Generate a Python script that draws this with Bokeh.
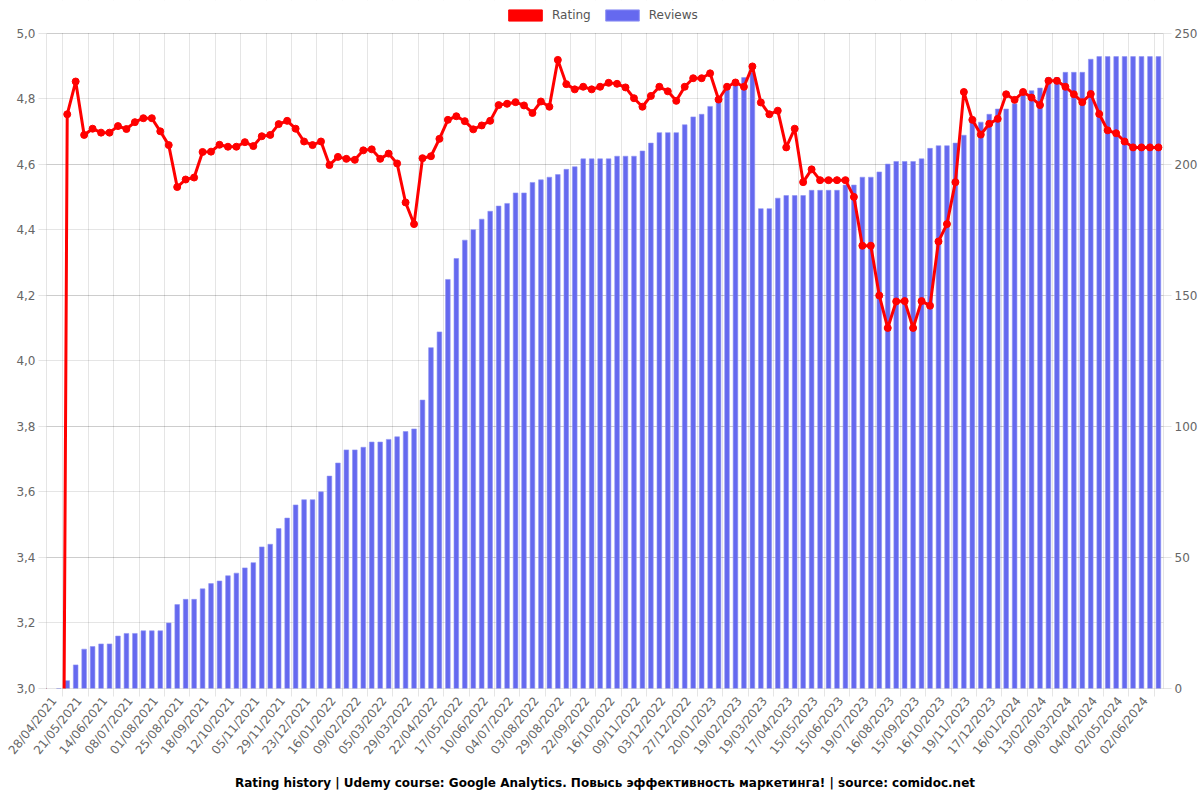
import math
from bokeh.plotting import figure
from bokeh.models import (Range1d, LinearAxis, FixedTicker, Grid, Legend, LegendItem,
                          CustomJSTickFormatter, Title, ColumnDataSource, BoxAnnotation)
from bokeh.embed import file_html
from bokeh.resources import INLINE

tick_labels = ["28/04/2021", "21/05/2021", "14/06/2021", "08/07/2021", "01/08/2021", "25/08/2021",
               "18/09/2021", "12/10/2021", "05/11/2021", "29/11/2021", "23/12/2021", "16/01/2022",
               "09/02/2022", "05/03/2022", "29/03/2022", "22/04/2022", "17/05/2022", "10/06/2022",
               "04/07/2022", "03/08/2022", "29/08/2022", "22/09/2022", "16/10/2022", "09/11/2022",
               "03/12/2022", "27/12/2022", "20/01/2023", "19/02/2023", "19/03/2023", "17/04/2023",
               "15/05/2023", "15/06/2023", "19/07/2023", "16/08/2023", "15/09/2023", "16/10/2023",
               "19/11/2023", "17/12/2023", "16/01/2024", "13/02/2024", "09/03/2024", "04/04/2024",
               "02/05/2024", "02/06/2024"]

reviews = [0,
           3, 9, 15, 16, 17, 17, 20, 21, 21, 22, 22, 22, 25, 32, 34, 34, 38, 40, 41, 43, 44, 46, 48,
           54, 55, 61, 65, 70, 72, 72, 75, 81, 86,
           91, 91, 92, 94, 94, 95, 96, 98, 99, 110, 130, 136, 156, 164, 171, 175, 179, 182, 184, 185,
           189, 189, 193, 194, 195, 196, 198, 199, 202, 202, 202, 202, 203,
           203, 203, 205, 208, 212, 212, 212, 215, 218, 219, 222, 224, 230, 230, 233, 235, 183, 183,
           187, 188, 188, 188, 190, 190, 190, 190, 192, 192, 195, 195, 197, 200, 201,
           201, 201, 202, 206, 207, 207, 208, 211, 216, 216, 219, 221, 221, 223, 228, 228, 229, 233,
           233, 235, 235, 235, 240, 241, 241, 241, 241, 241, 241, 241, 241]

rating = [0.0,
          4.752, 4.852, 4.689, 4.708, 4.696, 4.696, 4.716, 4.707, 4.728, 4.740, 4.740, 4.700, 4.658,
          4.530, 4.553, 4.559, 4.637, 4.638, 4.659, 4.653, 4.653, 4.667, 4.655, 4.685, 4.689, 4.722,
          4.732, 4.708, 4.669, 4.658, 4.669, 4.597, 4.622,
          4.616, 4.613, 4.642, 4.645, 4.616, 4.632, 4.602, 4.483, 4.417, 4.618, 4.624, 4.677, 4.735,
          4.746, 4.731, 4.706, 4.718, 4.732, 4.780, 4.784, 4.789, 4.779, 4.756, 4.791, 4.775, 4.918,
          4.844, 4.828, 4.836, 4.828, 4.836, 4.848, 4.845,
          4.834, 4.801, 4.775, 4.808, 4.836, 4.822, 4.793, 4.836, 4.862, 4.862, 4.877, 4.797, 4.836,
          4.849, 4.836, 4.898, 4.788, 4.752, 4.763, 4.651, 4.708, 4.545, 4.584, 4.551, 4.551, 4.551,
          4.551, 4.500, 4.351, 4.351, 4.199, 4.100, 4.181,
          4.182, 4.100, 4.182, 4.168, 4.364, 4.417, 4.545, 4.820, 4.735, 4.690, 4.723, 4.738, 4.813,
          4.796, 4.820, 4.803, 4.780, 4.854, 4.854, 4.836, 4.813, 4.789, 4.814, 4.753, 4.703, 4.694,
          4.669, 4.651, 4.651, 4.651, 4.651]

rating_ticks = [3.0, 3.2, 3.4, 3.6, 3.8, 4.0, 4.2, 4.4, 4.6, 4.8, 5.0]
review_ticks = [0, 50, 100, 150, 200, 250]

LABEL_STEP = 3
idx = list(range(len(reviews)))
src = ColumnDataSource(dict(x=idx, reviews=reviews, rating=rating))

FONT = "DejaVu Sans"
GRID = "rgba(0,0,0,0.1)"
X0, X1 = -1.45, len(idx) - 0.4
SHIFT = 0.55  # rotated labels end slightly left of the category centre

# the frame reaches the top of the page; the strip above the 5,0 line holds the legend
FRAME_H = 688
PLOT_H = 655.5
R_LO, R_HI = 3.0, 5.0
V_LO, V_HI = 0, 250
r_top = R_LO + (R_HI - R_LO) * FRAME_H / PLOT_H
v_top = V_LO + (V_HI - V_LO) * FRAME_H / PLOT_H

p = figure(width=1200, height=800, output_backend="svg", toolbar_location=None,
           x_range=Range1d(X0, X1), y_range=Range1d(R_LO, r_top),
           min_border_left=46, min_border_right=37, min_border_top=0, min_border_bottom=112,
           background_fill_color="white", border_fill_color="white", outline_line_color=None)
p.extra_y_ranges = {"rev": Range1d(V_LO, v_top)}
p.extra_x_ranges = {"lab": Range1d(X0 + SHIFT, X1 + SHIFT)}

label_ticks = list(range(0, len(idx), LABEL_STEP))[:len(tick_labels)]

# bottom axis 1: tick marks only, at category boundaries
p.xaxis.ticker = FixedTicker(ticks=[t + 0.5 for t in label_ticks])
p.xaxis.formatter = CustomJSTickFormatter(code="return '';")
p.xaxis.minor_tick_line_color = None
p.xaxis.major_tick_out = 8
p.xaxis.major_tick_in = 0
p.xaxis.major_tick_line_color = GRID
p.xaxis.axis_line_color = GRID
p.xaxis.major_label_standoff = 0

# bottom axis 2: rotated date labels
lab_axis = LinearAxis(x_range_name="lab", ticker=FixedTicker(ticks=label_ticks))
lab_axis.major_label_overrides = {t: lab for t, lab in zip(label_ticks, tick_labels)}
lab_axis.major_label_orientation = 0.9
lab_axis.minor_tick_line_color = None
lab_axis.major_tick_line_color = None
lab_axis.major_tick_out = 0
lab_axis.major_tick_in = 0
lab_axis.axis_line_color = None
lab_axis.major_label_text_font = FONT
lab_axis.major_label_text_font_size = "12px"
lab_axis.major_label_text_color = "#666666"
lab_axis.major_label_standoff = 2
p.add_layout(lab_axis, "below")

p.yaxis.ticker = FixedTicker(ticks=rating_ticks)
p.yaxis.bounds = (R_LO, R_HI)
p.yaxis.formatter = CustomJSTickFormatter(code="return tick.toFixed(1).replace('.', ',');")
p.yaxis.minor_tick_line_color = None
p.yaxis.major_tick_out = 8
p.yaxis.major_tick_in = 0
p.yaxis.major_tick_line_color = GRID
p.yaxis.axis_line_color = GRID
p.yaxis.major_label_text_font = FONT
p.yaxis.major_label_text_font_size = "12px"
p.yaxis.major_label_text_color = "#666666"
p.yaxis.major_label_standoff = 3

right = LinearAxis(y_range_name="rev", ticker=FixedTicker(ticks=review_ticks), bounds=(V_LO, V_HI))
right.minor_tick_line_color = None
right.major_tick_out = 8
right.major_tick_in = 0
right.major_tick_line_color = GRID
right.axis_line_color = GRID
right.major_label_text_font = FONT
right.major_label_text_font_size = "12px"
right.major_label_text_color = "#666666"
right.major_label_standoff = 3
p.add_layout(right, "right")

# grids
p.xgrid.visible = False
p.ygrid.grid_line_color = GRID
p.ygrid.ticker = FixedTicker(ticks=rating_ticks)
vgrid = Grid(dimension=0, ticker=FixedTicker(ticks=[t + 0.5 for t in label_ticks]),
             grid_line_color=GRID)
p.add_layout(vgrid)
rgrid = Grid(dimension=1, y_range_name="rev", ticker=FixedTicker(ticks=review_ticks),
             grid_line_color=GRID)
p.add_layout(rgrid)

# data
p.vbar(x="x", top="reviews", width=0.55, source=src, y_range_name="rev",
       fill_color="#6569ef", line_color="#8f93f4", line_width=0.6)
p.line(x="x", y="rating", source=src, line_color="#ff0000", line_width=3)
p.scatter(x="x", y="rating", source=src, size=7, fill_color="#ff0000", line_color="#ff0000")

# white strip above the plotting area (hides grid lines there)
p.add_layout(BoxAnnotation(bottom=R_HI, fill_color="white", fill_alpha=1.0, line_color=None))

# legend swatches (one off-screen element each so the legend has something to draw)
red_box = p.vbar(x=[-50], top=[0], width=1, y_range_name="rev",
                 fill_color="#ff0000", line_color="#ff0000")
blue_box = p.vbar(x=[-50], top=[0], width=1, y_range_name="rev",
                  fill_color="#6569ef", line_color="#8f93f4")
legend = Legend(items=[LegendItem(label="Rating", renderers=[red_box]),
                       LegendItem(label="Reviews", renderers=[blue_box])],
                orientation="horizontal", location=(458, FRAME_H - 25), glyph_width=42,
                glyph_height=14, label_standoff=6, spacing=10, padding=0, margin=0,
                label_height=20, border_line_color=None, background_fill_alpha=0,
                label_text_font=FONT, label_text_font_size="12px", label_text_color="#555555")
p.add_layout(legend, "center")

title = Title(text="Rating history | Udemy course: Google Analytics. Повысь эффективность маркетинга! | source: comidoc.net",
              align="center", text_font=FONT, text_font_style="bold", text_font_size="12px",
              text_color="#000000", standoff=19)
p.add_layout(title, "below")

open("out.html", "w").write(file_html(p, INLINE))
